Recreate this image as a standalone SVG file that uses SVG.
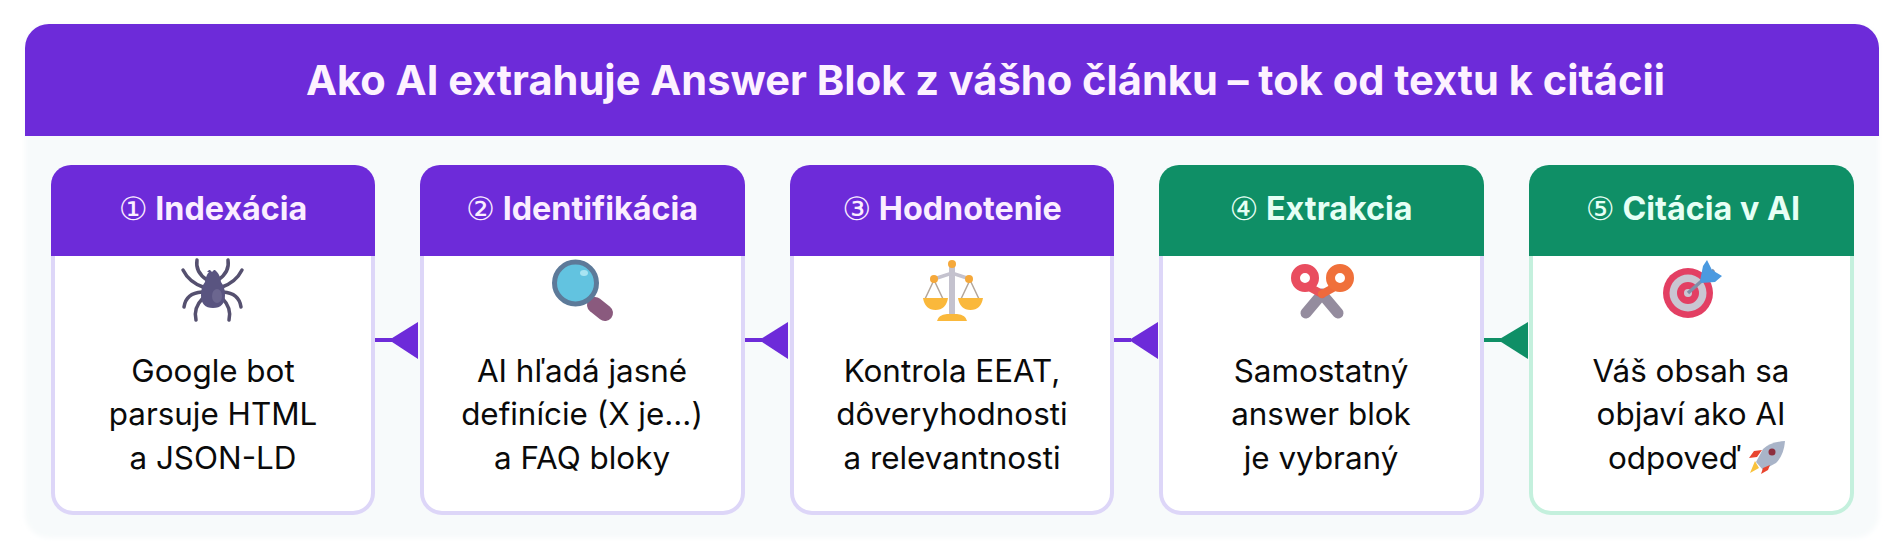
<svg xmlns="http://www.w3.org/2000/svg" width="1895" height="544" viewBox="0 0 1895 544">
<defs>
<style>
.title{font:700 41.6px Inter,"Liberation Sans",sans-serif;fill:#fdf2ff;text-anchor:middle}
.h{font:700 32.3px Inter,"Liberation Sans",sans-serif;text-anchor:middle}
.n{font-family:"DejaVu Sans",sans-serif;font-weight:400}
.hp{fill:#fbeeff}.hg{fill:#e6fff5}
.b{font:400 31.4px Inter,"Liberation Sans",sans-serif;fill:#0a0a0a;text-anchor:middle}
.card{fill:#fff;stroke:#ddd6f8;stroke-width:4}
.cardg{fill:#fff;stroke:#c4f0dd;stroke-width:4}
.leg{fill:none;stroke:#55506f;stroke-width:3.500;stroke-linecap:round;stroke-linejoin:round}
</style>
<filter id="soft" x="-2%" y="-4%" width="104%" height="108%"><feGaussianBlur stdDeviation="2.500"/></filter>
</defs>
<rect width="1895" height="544" fill="#fff"/>
<g id="panel">
<rect x="25" y="24" width="1854" height="514" rx="24" fill="#f7fafb" filter="url(#soft)"/>
<path d="M25 136V48a24 24 0 0 1 24-24H1855a24 24 0 0 1 24 24V136Z" fill="#6d2bd9"/>
<text class="title" x="985.500" y="95">Ako AI extrahuje Answer Blok z vášho článku – tok od textu k citácii</text>
</g>
<g id="connectors">
<g fill="#6d2bd9" stroke="#6d2bd9">
<path d="M375 340H392" stroke-width="4" fill="none"/><polygon points="418,322 389,340 418,359" stroke="none"/>
<path d="M745 340H762" stroke-width="4" fill="none"/><polygon points="788,322 759,340 788,359" stroke="none"/>
<path d="M1114 340H1131" stroke-width="4" fill="none"/><polygon points="1158,322 1129,340 1158,359" stroke="none"/>
</g>
<g fill="#0f8f66" stroke="#0f8f66">
<path d="M1484 340H1501" stroke-width="4" fill="none"/><polygon points="1528,322 1498,340 1528,359" stroke="none"/>
</g>
</g>
<g id="node1">
<rect class="card" x="53" y="190" width="320" height="323" rx="20"/>
<path d="M51 256V185a20 20 0 0 1 20-20H355a20 20 0 0 1 20 20V256Z" fill="#6d2bd9"/>
<text class="h hp" x="213" y="220"><tspan class="n">①</tspan> Indexácia</text>
<g id="spider"><path class="leg" d="M197 260q-2 12 10 20M228 260q2 12-10 20M183 270q6 12 20 17M242 270q-6 12-20 17M184 307q2-14 18-15M241 307q-2-14-18-15M196 320q-3-12 7-22M229 320q3-12-7-22"/>
<path d="M207 272l2-2h1l2 2 2-2h1l2 2q3 3 4 10 4 5 4 13 0 13-12 13t-12-13q0-8 4-13 1-7 4-10Z" fill="#595480"/><ellipse cx="217" cy="296" rx="5" ry="7" fill="#6b668f"/></g>
<g class="b"><text x="213" y="382">Google bot</text><text x="213" y="425">parsuje HTML</text><text x="213" y="469">a JSON-LD</text></g>
</g>
<g id="node2">
<rect class="card" x="422" y="190" width="321" height="323" rx="20"/>
<path d="M420 256V185a20 20 0 0 1 20-20H725a20 20 0 0 1 20 20V256Z" fill="#6d2bd9"/>
<text class="h hp" x="582" y="220"><tspan class="n">②</tspan> Identifikácia</text>
<g id="magnifier"><path d="M595 305l10 8" stroke="#8a5a7e" stroke-width="16" stroke-linecap="round"/><circle cx="575.500" cy="283" r="21" fill="#62c3e0" stroke="#5d7a99" stroke-width="5"/><ellipse cx="584" cy="273" rx="4" ry="3" fill="#a8e4f2"/></g>
<g class="b"><text x="582" y="382">AI hľadá jasné</text><text x="582" y="425">definície (X je...)</text><text x="582" y="469">a FAQ bloky</text></g>
</g>
<g id="node3">
<rect class="card" x="792" y="190" width="320" height="323" rx="20"/>
<path d="M790 256V185a20 20 0 0 1 20-20H1094a20 20 0 0 1 20 20V256Z" fill="#6d2bd9"/>
<text class="h hp" x="952" y="220"><tspan class="n">③</tspan> Hodnotenie</text>
<g id="scales"><path d="M949 266h6v48h-6z" fill="#c4c2ce"/><path d="M934 279l18-6 18 6" fill="none" stroke="#c4c2ce" stroke-width="3.500"/><path d="M934 280l-9 19M934 280l9 19M970 280l-9 19M970 280l9 19" stroke="#b3a69a" stroke-width="1.500" fill="none"/><path d="M923 298h25q-2 12-12.500 12t-12.500-12ZM958 298h25q-2 12-12.500 12t-12.500-12Z" fill="#fab83b"/><circle cx="952" cy="264" r="4" fill="#f5a83a"/><circle cx="934" cy="279" r="4" fill="#f5a83a"/><circle cx="969" cy="279" r="4" fill="#f5a83a"/><path d="M937 321q1-6 10-7h10q9 1 10 7Z" fill="#fab83b"/></g>
<g class="b"><text x="952" y="382">Kontrola EEAT,</text><text x="952" y="425">dôveryhodnosti</text><text x="952" y="469">a relevantnosti</text></g>
</g>
<g id="node4">
<rect class="card" x="1161" y="190" width="321" height="323" rx="20"/>
<path d="M1159 256V185a20 20 0 0 1 20-20H1464a20 20 0 0 1 20 20V256Z" fill="#0f8f66"/>
<text class="h hg" x="1321" y="220"><tspan class="n">④</tspan> Extrakcia</text>
<g id="scissors"><path d="M1322 294l-16 19M1322 294l16 19" stroke="#948c9e" stroke-width="11" stroke-linecap="round"/><path d="M1311 288l11 6" stroke="#e8525a" stroke-width="8" stroke-linecap="round"/><path d="M1333 288l-11 6" stroke="#ef6a3c" stroke-width="8" stroke-linecap="round"/><circle cx="1305" cy="278" r="9.500" fill="none" stroke="#e94d5f" stroke-width="9"/><circle cx="1340" cy="278" r="9.500" fill="none" stroke="#f0703a" stroke-width="9"/></g>
<g class="b"><text x="1321" y="382">Samostatný</text><text x="1321" y="425">answer blok</text><text x="1321" y="469">je vybraný</text></g>
</g>
<g id="node5">
<rect class="cardg" x="1531" y="190" width="321" height="323" rx="20"/>
<path d="M1529 256V185a20 20 0 0 1 20-20H1834a20 20 0 0 1 20 20V256Z" fill="#0f8f66"/>
<text class="h hg" x="1693" y="220"><tspan class="n">⑤</tspan> Citácia v AI</text>
<g id="target"><circle cx="1688" cy="293" r="25" fill="#e33f63"/><circle cx="1688" cy="293" r="18.500" fill="#c9c6d2"/><circle cx="1688" cy="293" r="11" fill="#e33f63"/><circle cx="1688" cy="293" r="4" fill="#c9c6d2"/><path d="M1688 293l26-23" stroke="#7f8fa8" stroke-width="3.500"/><path d="M1700 281l3-15 4-6 5 10 10 6-7 6-14 1Z" fill="#4b9ae0"/></g>
<g class="b"><text x="1691" y="382">Váš obsah sa</text><text x="1691" y="425">objaví ako AI</text><text x="1608" y="469" text-anchor="start">odpoveď</text></g>
<g id="rocket"><path d="M1756 462l7-13q7-7 22-8-1 14-9 22l-13 7Z" fill="#a9b4c8"/><circle cx="1772" cy="452" r="3.500" fill="#8d2e3e"/><path d="M1762 450l-8 1-5 7 8-1ZM1770 465l-2 5-7 4 2-6Z" fill="#e8452f"/><path d="M1755 461l-5 12 9-5Z" fill="#f9c23c"/></g>
</g>
</svg>
